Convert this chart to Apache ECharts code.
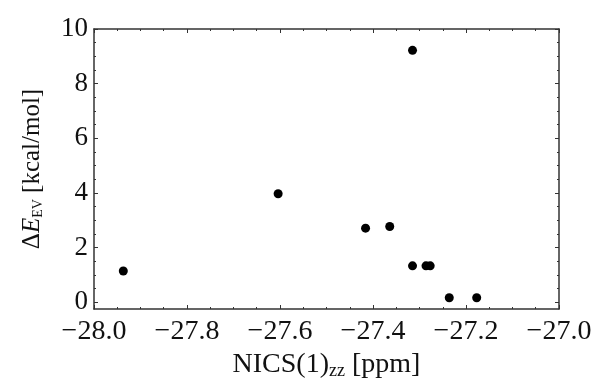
<!DOCTYPE html>
<html>
<head>
<meta charset="utf-8">
<script src="https://cdn.jsdelivr.net/npm/echarts@6/dist/echarts.min.js"></script>
<style>
  html, body { margin: 0; padding: 0; background: #fff; }
  #chart { width: 600px; height: 392px; }
</style>
</head>
<body>
<div id="chart"></div>
<script>
// data
var nics = [-27.937, -27.604, -27.315, -27.416, -27.364, -27.315, -27.286, -27.277, -27.236, -27.177];
var deltaE = [1.14, 3.97, 9.22, 2.71, 2.77, 1.33, 1.33, 1.33, 0.16, 0.16];

// tick positions
var yMajorTicks = [0, 2, 4, 6, 8, 10];
var yMinorTicks = [0.5, 1, 1.5, 2.5, 3, 3.5, 4.5, 5, 5.5, 6.5, 7, 7.5, 8.5, 9, 9.5];

var points = nics.map(function (x, i) { return [x, deltaE[i]]; });

var font = 'Liberation Serif';
var frameColor = '#333';
var textColor = '#111';

var myChart = echarts.init(document.getElementById('chart'));

function xAx(pos, showLabel) {
    return {
        type: 'value', position: pos,
        min: -28, max: -27, interval: 0.2,
        axisLine: { show: true, onZero: false, lineStyle: { color: frameColor, width: 1.5 } },
        axisTick: { show: true, inside: true, length: 4, lineStyle: { color: frameColor } },
        minorTick: { show: true, splitNumber: 4, length: 2, lineStyle: { color: frameColor } },
        splitLine: { show: false },
        axisLabel: {
            show: showLabel, margin: 9, color: textColor, fontFamily: font, fontSize: 28,
            formatter: function (v) { return '\u2212' + Math.abs(v).toFixed(1); }
        }
    };
}

function yAx(pos, ticks, len, showLine, showLabel) {
    return {
        type: 'value', position: pos,
        min: -0.25, max: 10,
        axisLine: { show: showLine, onZero: false, lineStyle: { color: frameColor, width: 1.5 } },
        axisTick: { show: true, inside: true, length: len, customValues: ticks, lineStyle: { color: frameColor } },
        splitLine: { show: false },
        axisLabel: {
            show: showLabel, customValues: yMajorTicks, margin: 6,
            color: textColor, fontFamily: font, fontSize: 27
        }
    };
}

var xBottom = xAx('bottom', true);
xBottom.name = '{n|NICS(1)}{s|zz}{n| [ppm]}';
xBottom.nameLocation = 'middle';
xBottom.nameGap = 38;
xBottom.nameTextStyle = {
    rich: {
        n: { fontFamily: font, fontSize: 28, color: textColor },
        s: { fontFamily: font, fontSize: 18, color: textColor, padding: [12, 0, 0, 0] }
    }
};

var yLeft = yAx('left', yMajorTicks, 4, true, true);
yLeft.name = '{n|\u0394}{e|E}{s|EV}{n| [kcal/mol]}';
yLeft.nameLocation = 'middle';
yLeft.nameGap = 49;
yLeft.nameTextStyle = {
    rich: {
        n: { fontFamily: font, fontSize: 25, color: textColor },
        e: { fontFamily: font, fontSize: 25, fontStyle: 'italic', color: textColor },
        s: { fontFamily: font, fontSize: 14, color: textColor, padding: [12, 0, 0, 0] }
    }
};

var option = {
    backgroundColor: '#fff',
    animation: false,
    grid: { left: 94, right: 41, top: 29, bottom: 83 },
    xAxis: [xBottom, xAx('top', false)],
    yAxis: [
        yLeft,
        yAx('left', yMinorTicks, 2, false, false),
        yAx('right', yMajorTicks, 4, true, false),
        yAx('right', yMinorTicks, 2, false, false)
    ],
    series: [{
        type: 'scatter',
        xAxisIndex: 0,
        yAxisIndex: 0,
        symbolSize: 9,
        itemStyle: { color: '#000', opacity: 1 },
        data: points
    }]
};

myChart.setOption(option);
</script>
</body>
</html>
